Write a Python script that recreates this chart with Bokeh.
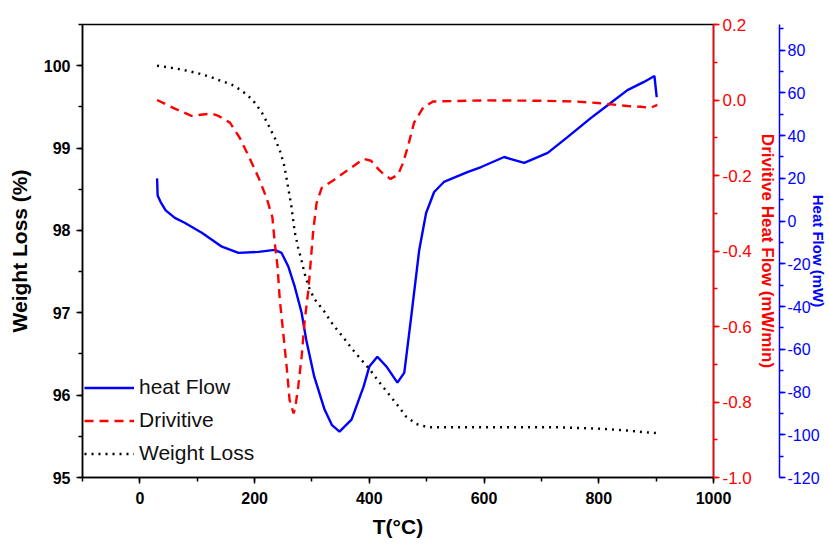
from bokeh.plotting import figure
from bokeh.models import (Range1d, LinearAxis, SingleIntervalTicker, NumeralTickFormatter, Legend, LegendItem)
from bokeh.embed import file_html
from bokeh.resources import INLINE

# ---------------- data ----------------
t_weight = [30, 50, 75, 100, 125, 140, 160, 177, 196, 212, 224, 236, 245, 252, 259, 264, 270, 276,
            282, 287, 294, 304, 322, 337, 355, 370, 386, 402, 417, 433, 449, 464, 482, 502, 550,
            650, 727, 770, 810, 850, 880, 900]
weight_loss = [100.0, 99.98, 99.95, 99.91, 99.86, 99.82, 99.77, 99.70, 99.59, 99.44, 99.28, 99.11,
               98.95, 98.78, 98.50, 98.30, 97.98, 97.79, 97.63, 97.48, 97.32, 97.17, 97.01, 96.85,
               96.70, 96.56, 96.43, 96.30, 96.16, 96.02, 95.88, 95.74, 95.65, 95.61, 95.61, 95.61,
               95.61, 95.60, 95.59, 95.57, 95.55, 95.54]

t_deriv = [30, 61, 90, 125, 137, 157, 174, 190, 207, 221, 231, 235, 240, 244, 250, 256, 261, 268,
           271, 276, 282, 287, 294, 302, 308, 317, 339, 363, 390, 403, 417, 426, 437, 450, 459,
           468, 478, 494, 511, 600, 700, 760, 798, 850, 873, 890, 902]
derivative = [0.0, -0.023, -0.042, -0.036, -0.042, -0.06, -0.10, -0.15, -0.206, -0.26, -0.31,
              -0.376, -0.442, -0.53, -0.618, -0.708, -0.795, -0.83, -0.814, -0.76, -0.68, -0.59,
              -0.50, -0.35, -0.273, -0.233, -0.211, -0.185, -0.156, -0.161, -0.185, -0.198,
              -0.209, -0.198, -0.166, -0.119, -0.06, -0.02, -0.004, -0.001, -0.002, -0.004,
              -0.008, -0.016, -0.018, -0.021, -0.013]

t_heat = [30, 31, 36, 45, 61, 78, 108, 143, 172, 207, 235, 247, 259, 270, 282, 290, 304, 322, 335,
          348, 369, 390, 400, 414, 430, 449, 461, 473, 487, 499, 513, 530, 572, 595, 635, 670,
          711, 746, 786, 816, 850, 878, 897, 901]
heat_flow = [20, 12, 9, 5, 1.5, -0.8, -5.5, -12, -14.9, -14.4, -13.5, -14.9, -21.4, -30.7, -42.9,
             -55.5, -72.8, -88.2, -95.5, -98.5, -92.9, -77.5, -68.1, -63.5, -68.1, -75.6, -70.9,
             -44.8, -13.5, 3.8, 13.6, 18.3, 23, 25.3, 30, 27.2, 31.9, 39.4, 48.2, 54.3, 61.3,
             65.0, 67.9, 58]

FONT = "Liberation Sans"
RED = "#ff0000"
BLUE = "#0000ff"

p = figure(width=829, height=544, output_backend="svg", toolbar_location=None,
           x_range=Range1d(-100, 1000), y_range=Range1d(95, 100.5),
           min_border_left=82, min_border_right=116, min_border_top=24, min_border_bottom=67)
p.background_fill_color = "white"
p.border_fill_color = "white"
p.grid.visible = False
p.outline_line_color = "black"
p.outline_line_width = 1.5

p.extra_y_ranges = {"deriv": Range1d(-1.0, 0.2), "heat": Range1d(-120, 92)}

def style_axis(ax, color, bold_labels, label_size, title_size):
    ax.axis_line_color = color
    ax.axis_line_width = 1.5
    ax.major_tick_line_color = color
    ax.minor_tick_line_color = color
    ax.major_tick_line_width = 1.5
    ax.minor_tick_line_width = 1.5
    ax.major_tick_in = 0
    ax.major_tick_out = 6
    ax.minor_tick_in = 0
    ax.minor_tick_out = 4
    ax.major_label_text_color = color
    ax.major_label_text_font = FONT
    ax.major_label_text_font_size = label_size
    ax.major_label_text_font_style = "bold" if bold_labels else "normal"
    ax.axis_label_text_color = color
    ax.axis_label_text_font = FONT
    ax.axis_label_text_font_size = title_size
    ax.axis_label_text_font_style = "bold"

# bottom axis
xa = p.xaxis[0]
xa.ticker = SingleIntervalTicker(interval=200, num_minor_ticks=2)
xa.axis_label = "T(°C)"
style_axis(xa, "black", True, "16px", "21px")
xa.major_label_standoff = 8
xa.axis_label_standoff = 8

# left axis
ya = p.yaxis[0]
ya.ticker = SingleIntervalTicker(interval=1, num_minor_ticks=2)
ya.axis_label = "Weight Loss (%)"
style_axis(ya, "black", True, "16px", "21px")
ya.major_label_standoff = 6
ya.axis_label_standoff = 10

# right red axis
ra = LinearAxis(y_range_name="deriv", axis_label="Drivitive Heat Flow (mW/min)",
                ticker=SingleIntervalTicker(interval=0.2, num_minor_ticks=2),
                formatter=NumeralTickFormatter(format="0.0"))
style_axis(ra, RED, False, "17px", "17px")
ra.major_label_standoff = 3
ra.axis_label_standoff = 3
p.add_layout(ra, "right")

# right blue axis
ba = LinearAxis(y_range_name="heat", axis_label="Heat Flow (mW)",
                ticker=SingleIntervalTicker(interval=20, num_minor_ticks=2),
                formatter=NumeralTickFormatter(format="0"))
style_axis(ba, BLUE, False, "16px", "15px")
ba.major_label_standoff = 2
ba.axis_label_standoff = -13
p.add_layout(ba, "right")

# series
r_heat = p.line(t_heat, heat_flow, y_range_name="heat", line_color=BLUE, line_width=2.4)
r_der = p.line(t_deriv, derivative, y_range_name="deriv", line_color=RED, line_width=2.4,
               line_dash="9 6")
r_w = p.line(t_weight, weight_loss, line_color="black", line_width=2.4, line_dash="2 5")

legend = Legend(items=[LegendItem(label="heat Flow", renderers=[r_heat]),
                       LegendItem(label="Drivitive", renderers=[r_der]),
                       LegendItem(label="Weight Loss", renderers=[r_w])],
                location=(2, 12))
legend.background_fill_alpha = 0
legend.border_line_color = None
legend.label_text_font = FONT
legend.label_text_font_size = "21px"
legend.label_text_color = "#111111"
legend.glyph_width = 50
legend.glyph_height = 23
legend.spacing = 9
legend.padding = 4
legend.label_standoff = 5
legend.margin = 0
p.add_layout(legend, "center")

open("out.html", "w").write(file_html(p, INLINE))
